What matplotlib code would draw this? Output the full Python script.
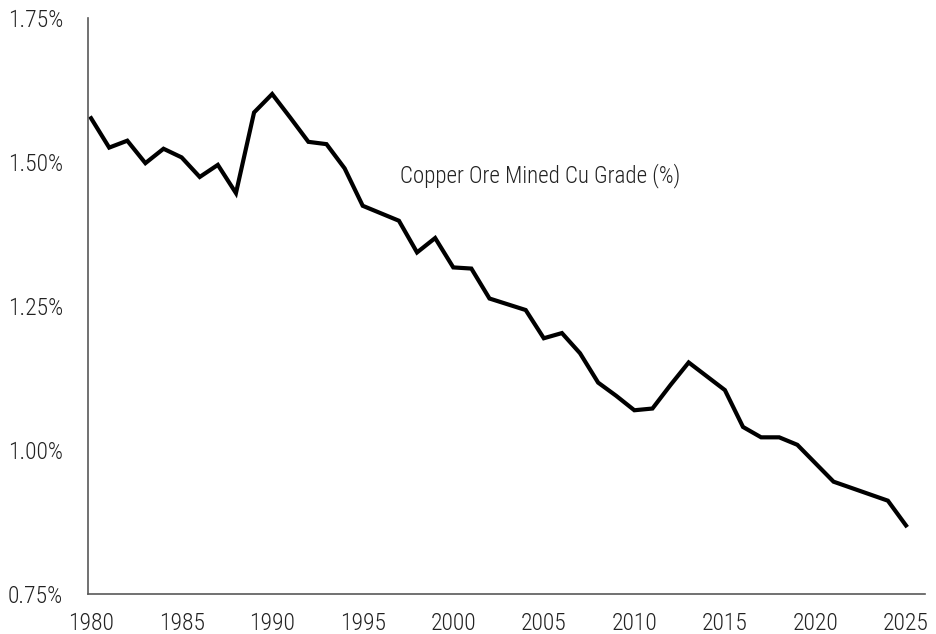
import matplotlib
matplotlib.use("Agg")
import matplotlib.pyplot as plt
from matplotlib import font_manager as fm
from matplotlib.ticker import FixedLocator, FuncFormatter

years = list(range(1980, 2026))
grade = [1.576, 1.525, 1.537, 1.498, 1.523, 1.508, 1.474, 1.495, 1.446, 1.586,
         1.618, 1.577, 1.535, 1.531, 1.489, 1.424, 1.411, 1.398, 1.343, 1.368,
         1.317, 1.315, 1.263, 1.253, 1.243, 1.194, 1.203, 1.168, 1.117, 1.094,
         1.069, 1.072, 1.113, 1.152, 1.128, 1.104, 1.040, 1.022, 1.022, 1.009,
         0.977, 0.945, 0.934, 0.923, 0.912, 0.869]
x_ticks = [1980, 1985, 1990, 1995, 2000, 2005, 2010, 2015, 2020, 2025]
y_ticks = [0.75, 1.00, 1.25, 1.50, 1.75]
series_label = "Copper Ore Mined Cu Grade (%)"

names = {f.name for f in fm.fontManager.ttflist}
if "Roboto Condensed" in names:
    fam = ["Roboto Condensed", "DejaVu Sans"]
elif "Liberation Sans Narrow" in names:
    fam = ["Liberation Sans Narrow", "DejaVu Sans"]
else:
    fam = ["Roboto", "DejaVu Sans"]
plt.rcParams["font.family"] = fam
plt.rcParams["font.weight"] = "light"

W, H = 937, 634
fig = plt.figure(figsize=(W / 100, H / 100), dpi=100)
ax = fig.add_axes([88 / W, 1 - 594 / H, (925 - 88) / W, (594 - 18) / H])

ax.plot(years, grade, color="black", linewidth=3.0, solid_joinstyle="miter")

ax.set_xlim(1979.83, 2026.05)
ax.set_ylim(0.75, 1.75)
ax.xaxis.set_major_locator(FixedLocator(x_ticks))
ax.yaxis.set_major_locator(FixedLocator(y_ticks))
ax.yaxis.set_major_formatter(FuncFormatter(lambda v, p: f"{v:.2f}%"))

for s in ["top", "right"]:
    ax.spines[s].set_visible(False)
for s in ["left", "bottom"]:
    ax.spines[s].set_color("#595959")
    ax.spines[s].set_linewidth(1.2)

ax.tick_params(axis="both", length=0, labelsize=17, colors="#222222")
ax.tick_params(axis="x", pad=13)
ax.tick_params(axis="y", pad=18)

ax.text(1997.05, 1.477, series_label, fontsize=16.6, color="#222222",
        ha="left", va="center")

fig.savefig("out.png", dpi=100)
